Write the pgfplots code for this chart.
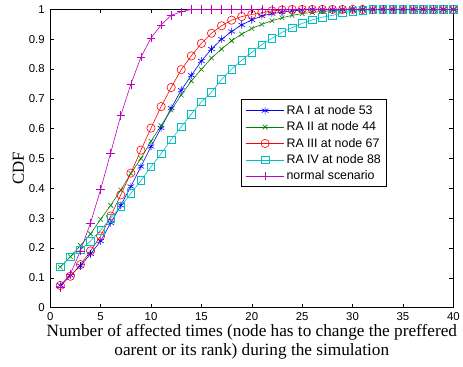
\documentclass[border=0pt]{standalone}
\usepackage{pgfplots}
\pgfplotsset{compat=1.18}
\usepackage{fontspec}
\setmainfont{Liberation Serif}
\newfontfamily\arial{Liberation Sans}
\definecolor{mblue}{rgb}{0,0,1}
\definecolor{mgreen}{rgb}{0,0.5,0}
\definecolor{mred}{rgb}{1,0,0}
\definecolor{mcyan}{rgb}{0,0.75,0.75}
\definecolor{mmag}{rgb}{0.75,0,0.75}
\begin{document}
\begin{tikzpicture}
\begin{axis}[
  name=ax,
  scale only axis, width=407pt, height=301pt,
  xmin=0, xmax=40, ymin=0, ymax=1,
  xtick={0,5,10,15,20,25,30,35,40},
  ytick={0,0.1,0.2,0.3,0.4,0.5,0.6,0.7,0.8,0.9,1},
  yticklabels={0,0.1,0.2,0.3,0.4,0.5,0.6,0.7,0.8,0.9,1},
  tick align=inside, major tick length=4pt,
  tick style={black, line width=0.5pt},
  axis line style={black, line width=1pt},
  ticklabel style={font=\arial\fontsize{11.5}{13}\selectfont},
  xticklabel style={/pgf/number format/assume math mode=true, yshift=-1.5pt},
  yticklabel style={xshift=-2pt},
  xlabel={Number of affected times (node has to change the preffered\\oarent or its rank) during the simulation},
  xlabel style={align=center, font=\fontsize{17.4}{19.5}\selectfont, yshift=3pt},
  ylabel={CDF},
  ylabel style={font=\fontsize{17}{19}\selectfont, yshift=-2pt, xshift=-10pt},
  legend style={at={(axis cs:18.95,0.698)}, anchor=north west, draw=black, line width=1pt, row sep=2pt, inner xsep=4pt, inner ysep=3.5pt,
    nodes={font=\arial\fontsize{12.5}{14}\selectfont}},
  legend cell align=left,
  legend image code/.code={\draw[mark repeat=2,mark phase=2] plot coordinates {(0cm,0cm) (0.68cm,0cm) (1.36cm,0cm)};},
  every axis plot/.append style={line width=0.6pt, mark options={solid, line width=0.6pt}},
]
\addplot[mblue, mark=asterisk, mark size=3.8pt] coordinates {
(1,0.075)(2,0.108)(3,0.14)(4,0.18)(5,0.223)(6,0.284)(7,0.343)(8,0.406)(9,0.473)(10,0.54)
(11,0.602)(12,0.669)(13,0.729)(14,0.779)(15,0.827)(16,0.867)(17,0.9)(18,0.926)(19,0.948)(20,0.965)
(21,0.978)(22,0.986)(23,0.991)(24,0.995)(25,0.998)(26,1)(27,1)(28,1)(29,1)(30,1)
(31,1)(32,1)(33,1)(34,1)(35,1)(36,1)(37,1)(38,1)(39,1)(40,1)};
\addlegendentry{RA I at node 53}
\addplot[mgreen, mark=x, mark size=3.3pt] coordinates {
(1,0.136)(2,0.171)(3,0.208)(4,0.247)(5,0.296)(6,0.343)(7,0.394)(8,0.45)(9,0.5)(10,0.558)
(11,0.61)(12,0.663)(13,0.713)(14,0.76)(15,0.799)(16,0.837)(17,0.867)(18,0.895)(19,0.917)(20,0.936)
(21,0.95)(22,0.962)(23,0.972)(24,0.98)(25,0.986)(26,0.99)(27,0.993)(28,0.996)(29,0.998)(30,1)
(31,1)(32,1)(33,1)(34,1)(35,1)(36,1)(37,1)(38,1)(39,1)(40,1)};
\addlegendentry{RA II at node 44}
\addplot[mred, mark=o, mark size=4.2pt] coordinates {
(1,0.074)(2,0.105)(3,0.144)(4,0.19)(5,0.24)(6,0.307)(7,0.378)(8,0.451)(9,0.528)(10,0.602)
(11,0.674)(12,0.738)(13,0.798)(14,0.844)(15,0.886)(16,0.92)(17,0.945)(18,0.964)(19,0.976)(20,0.983)
(21,0.989)(22,0.995)(23,0.998)(24,1)(25,1)(26,1)(27,1)(28,1)(29,1)(30,1)
(31,1)(32,1)(33,1)(34,1)(35,1)(36,1)(37,1)(38,1)(39,1)(40,1)};
\addlegendentry{RA III at node 67}
\addplot[mcyan, mark=square, mark size=3.8pt] coordinates {
(1,0.136)(2,0.171)(3,0.194)(4,0.223)(5,0.26)(6,0.3)(7,0.339)(8,0.383)(9,0.426)(10,0.472)
(11,0.516)(12,0.563)(13,0.606)(14,0.649)(15,0.69)(16,0.722)(17,0.765)(18,0.8)(19,0.829)(20,0.856)
(21,0.882)(22,0.903)(23,0.923)(24,0.939)(25,0.953)(26,0.965)(27,0.974)(28,0.98)(29,0.989)(30,0.993)
(31,0.997)(32,1)(33,1)(34,1)(35,1)(36,1)(37,1)(38,1)(39,1)(40,1)};
\addlegendentry{RA IV at node 88}
\addplot[mmag, mark=+, mark size=4.3pt] coordinates {
(1,0.068)(2,0.113)(3,0.19)(4,0.284)(5,0.396)(6,0.519)(7,0.644)(8,0.749)(9,0.84)(10,0.904)
(11,0.948)(12,0.98)(13,0.992)(14,1)(15,1)(16,1)(17,1)(18,1)(19,1)(20,1)
(21,1)(22,1)(23,1)(24,1)(25,1)(26,1)(27,1)(28,1)(29,1)(30,1)
(31,1)(32,1)(33,1)(34,1)(35,1)(36,1)(37,1)(38,1)(39,1)(40,1)};
\addlegendentry{normal scenario}
\end{axis}
\path (ax.south west) +(-50.7pt,-59.5pt) (ax.north east) +(5.3pt,9.5pt);
\end{tikzpicture}
\end{document}
